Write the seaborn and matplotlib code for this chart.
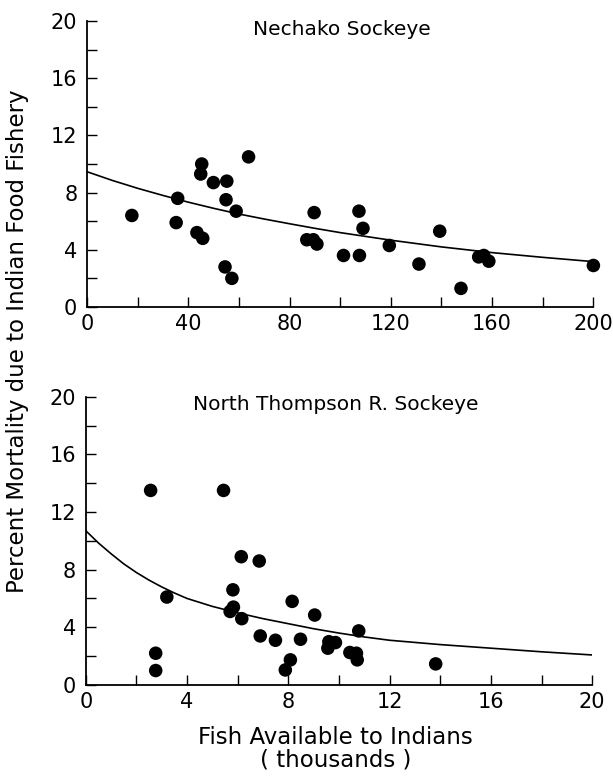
import numpy as np
import pandas as pd
import matplotlib
matplotlib.use("Agg")
import matplotlib.pyplot as plt
from matplotlib.ticker import MultipleLocator
import seaborn as sns

# Nechako sockeye: fish available (thousands) vs percent mortality
nechako_x = [17.7, 35.8, 35.2, 45.3, 44.9, 43.4, 45.7, 49.9, 55.2, 54.9,
             58.9, 54.5, 57.2, 63.8, 86.8, 89.4, 90.8, 89.7, 101.3, 107.6,
             107.4, 109.0, 119.4, 131.1, 139.3, 147.7, 154.7, 156.7, 158.7, 200.0]
nechako_y = [6.4, 7.6, 5.9, 10.0, 9.3, 5.2, 4.8, 8.7, 8.8, 7.5,
             6.7, 2.8, 2.0, 10.5, 4.7, 4.7, 4.4, 6.6, 3.6, 3.6,
             6.7, 5.5, 4.3, 3.0, 5.3, 1.3, 3.5, 3.6, 3.2, 2.9]
# fitted curve
nechako_curve_x = [0, 10, 20, 30, 40, 50, 60, 70, 80, 90, 100,
                   120, 140, 160, 180, 200]
nechako_curve_y = [9.46, 8.85, 8.3, 7.8, 7.33, 6.9, 6.5, 6.15, 5.82, 5.5, 5.2,
                   4.67, 4.2, 3.8, 3.47, 3.17]

# North Thompson R. sockeye
thompson_x = [2.56, 5.44, 2.76, 2.76, 3.2, 6.14, 6.85, 5.81, 5.83, 5.7,
              6.16, 6.89, 7.49, 8.15, 8.08, 7.88, 8.48, 9.04, 9.6, 9.56,
              9.86, 10.43, 10.69, 10.72, 10.78, 13.82]
thompson_y = [13.5, 13.5, 2.2, 1.0, 6.1, 8.9, 8.6, 6.6, 5.4, 5.1,
              4.6, 3.4, 3.1, 5.8, 1.74, 1.04, 3.17, 4.85, 3.0, 2.55,
              2.94, 2.25, 2.2, 1.74, 3.75, 1.46]
thompson_curve_x = [0, 0.5, 1, 1.5, 2, 2.5, 3, 3.5, 4, 5, 6, 7, 8, 9, 10,
                    11, 12, 13, 14, 16, 18, 20]
thompson_curve_y = [10.7, 9.85, 9.1, 8.4, 7.8, 7.27, 6.8, 6.38, 6.0, 5.45,
                    5.0, 4.6, 4.25, 3.9, 3.6, 3.33, 3.1, 2.95, 2.8, 2.55,
                    2.3, 2.08]

sns.set_style("ticks")
plt.rcParams["font.family"] = ["DejaVu Sans"]
for key in ("text.color", "axes.labelcolor", "xtick.color", "ytick.color",
            "axes.edgecolor"):
    plt.rcParams[key] = "black"

fig = plt.figure(figsize=(6.13, 7.81), dpi=100)
ax1 = fig.add_axes([0.142, 0.607, 0.826, 0.366])
ax2 = fig.add_axes([0.140, 0.123, 0.826, 0.369])

panels = [
    (ax1, nechako_x, nechako_y, nechako_curve_x, nechako_curve_y,
     "Nechako Sockeye", 200, 40, 20, 0.504),
    (ax2, thompson_x, thompson_y, thompson_curve_x, thompson_curve_y,
     "North Thompson R. Sockeye", 20, 4, 2, 0.494),
]

for ax, xs, ys, cx, cy, title, xmax, xmaj, xmin, tx in panels:
    pts = pd.DataFrame({"x": xs, "y": ys})
    curve = pd.DataFrame({"x": cx, "y": cy})
    sns.lineplot(data=curve, x="x", y="y", ax=ax, color="black", lw=1.2)
    sns.scatterplot(data=pts, x="x", y="y", ax=ax, color="black", s=95,
                    edgecolor="none", clip_on=False, zorder=3)
    ax.set_xlim(0, xmax)
    ax.set_ylim(0, 20)
    ax.xaxis.set_major_locator(MultipleLocator(xmaj))
    ax.xaxis.set_minor_locator(MultipleLocator(xmin))
    ax.yaxis.set_major_locator(MultipleLocator(4))
    ax.yaxis.set_minor_locator(MultipleLocator(2))
    ax.tick_params(which="both", direction="in", length=7, width=1.0,
                   labelsize=15, color="black")
    ax.tick_params(axis="x", pad=5)
    ax.tick_params(axis="y", pad=7)
    ax.set_xlabel("")
    ax.set_ylabel("")
    sns.despine(ax=ax)
    for sp in ("left", "bottom"):
        ax.spines[sp].set_linewidth(1.3)
    ax.text(tx, 1.005, title, transform=ax.transAxes, ha="center",
            va="top", fontsize=14.5)

fig.text(0.028, 0.563, "Percent Mortality due to Indian Food Fishery",
         rotation=90, ha="center", va="center", fontsize=16.5)
fig.text(0.547, 0.056, "Fish Available to Indians", ha="center",
         va="center", fontsize=16.5)
fig.text(0.547, 0.027, "( thousands )", ha="center", va="center",
         fontsize=16.5)

fig.savefig("out.png", dpi=100)
